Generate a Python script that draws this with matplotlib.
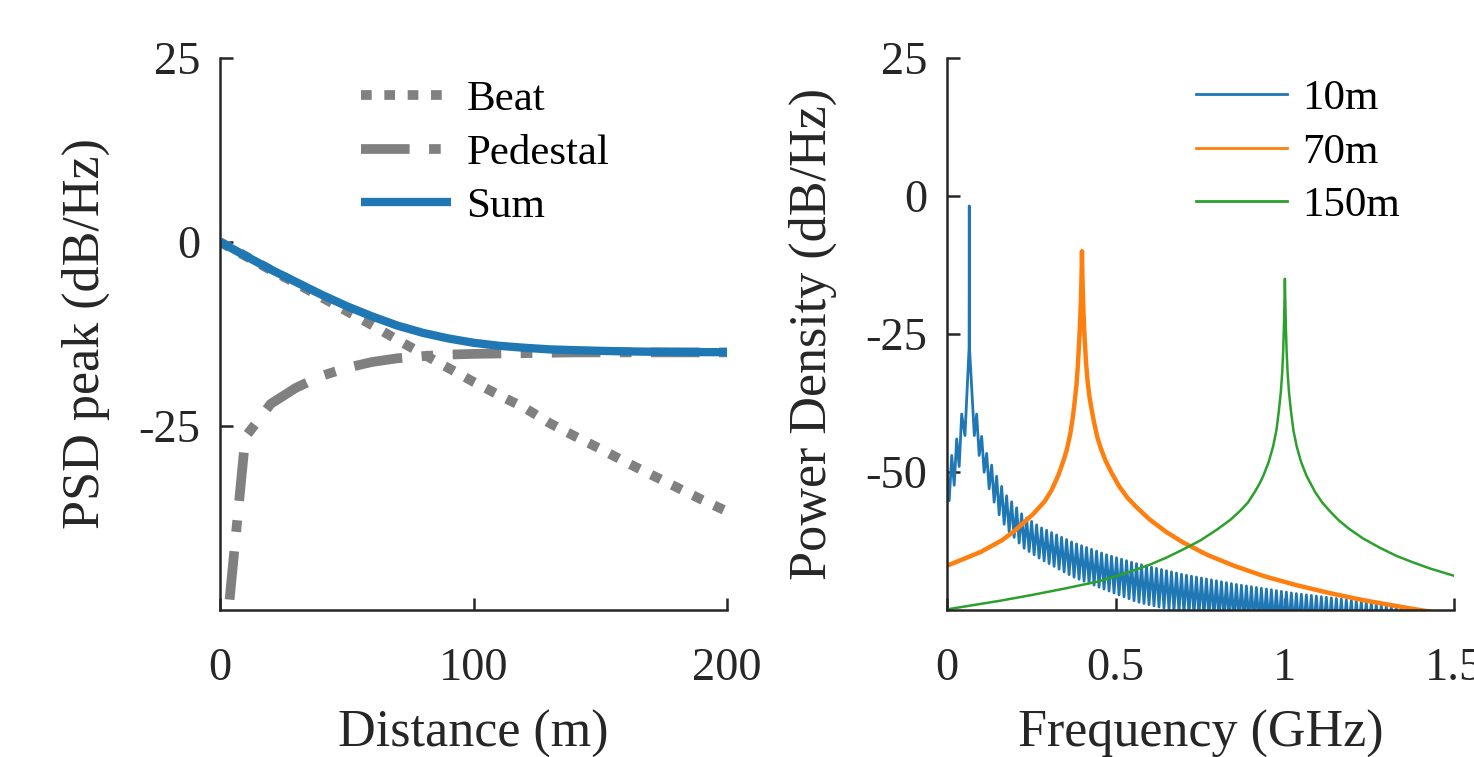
import numpy as np
import matplotlib
matplotlib.use("Agg")
import matplotlib.pyplot as plt
from matplotlib.lines import Line2D

plt.rcParams["font.family"] = ["Liberation Serif", "DejaVu Serif"]
plt.rcParams["axes.unicode_minus"] = False

# ---- left panel : PSD peak vs distance ----
distance = [0, 10, 20, 30, 40, 50, 60, 70, 80, 90, 100,
            110, 120, 130, 140, 150, 160, 170, 180, 190, 200]
beat = [0.0, -1.9, -3.8, -5.6, -7.5, -9.4, -11.3, -13.3, -15.2, -17.1, -19.0,
        -20.8, -22.5, -24.6, -26.4, -28.1, -29.9, -31.6, -33.3, -35.0, -36.6]
pedestal = [-62.0, -26.5, -22.0, -19.8, -18.2, -17.1, -16.3, -15.8, -15.5, -15.3, -15.2,
            -15.15, -15.1, -15.05, -15.0, -15.0, -15.0, -15.0, -15.0, -15.0, -15.0]
psd_sum = [0.0, -1.88, -3.73, -5.44, -7.15, -8.72, -10.11, -11.36, -12.34, -13.1, -13.69,
           -14.1, -14.37, -14.59, -14.7, -14.79, -14.86, -14.91, -14.94, -14.96, -14.97]

# ---- right panel : spectra ----
# 70 m
f_70 = [0.0, 0.1, 0.1625, 0.2, 0.256, 0.29, 0.31, 0.33, 0.345, 0.355, 0.365, 0.372, 0.378,
        0.384, 0.388, 0.392, 0.395, 0.397, 0.3985, 0.3995, 0.4,
        0.4005, 0.4015, 0.403, 0.405, 0.408, 0.412, 0.417, 0.422, 0.428, 0.435, 0.445, 0.455,
        0.47, 0.488, 0.51, 0.535, 0.56, 0.6, 0.65, 0.7, 0.77, 0.85, 0.94, 1.034, 1.13, 1.23,
        1.35, 1.5]
p_70 = [-67.0, -64.5, -62.4, -60.7, -57.6, -55.3, -53.3, -50.6, -48.0, -46.0, -43.2, -40.5, -37.5,
        -34.0, -30.5, -26.0, -22.0, -18.5, -15.0, -12.0, -10.0,
        -12.0, -15.0, -18.5, -22.0, -26.0, -30.2, -33.8, -36.3, -38.5, -40.8, -43.6, -45.6,
        -48.0, -50.2, -52.6, -54.7, -56.3, -58.6, -60.9, -62.8, -65.0, -67.0, -68.9, -70.5,
        -71.9, -73.2, -74.5, -76.0]
# 150 m
f_150 = [0.0, 0.16, 0.25, 0.35, 0.45, 0.5, 0.55, 0.6, 0.65, 0.7, 0.75, 0.8, 0.84, 0.87, 0.891,
         0.911, 0.926, 0.936, 0.952, 0.965, 0.975, 0.982, 0.988, 0.992, 0.995, 0.997, 0.9985,
         0.9995, 1.0,
         1.0005, 1.0015, 1.003, 1.005, 1.008, 1.012, 1.018, 1.025, 1.035, 1.048, 1.064, 1.089,
         1.11, 1.133, 1.16, 1.19, 1.23, 1.28, 1.33, 1.38, 1.43, 1.5]
p_150 = [-74.9, -73.3, -72.3, -71.1, -69.8, -68.9, -67.9, -66.8, -65.5, -64.0, -62.4, -60.4,
         -58.6, -56.9, -55.5, -53.6, -52.0, -50.7, -48.2, -45.4, -42.4, -39.0, -35.5, -32.0,
         -28.0, -24.0, -20.0, -17.0, -15.0,
         -17.0, -20.0, -24.0, -28.0, -32.0, -35.5, -39.0, -42.4, -45.4, -48.2, -50.7, -53.6,
         -55.5, -57.1, -58.8, -60.3, -62.0, -63.7, -65.2, -66.4, -67.5, -68.8]
# 10 m : ripples near dc and the main lobe
f_10_head = [0.0, 0.0074, 0.0148, 0.0222, 0.0295, 0.0369, 0.0443, 0.054, 0.0662, 0.0668,
             0.0674, 0.0817]
p_10_head = [-49.4, -55.2, -47.0, -52.4, -44.0, -49.0, -39.5, -43.4, -27.5, -1.8,
             -27.5, -43.4]
# 10 m : envelopes of the ripple tail (tops / troughs)
f_10_top = [0.0886, 0.105, 0.12, 0.153, 0.177, 0.226, 0.276, 0.374, 0.473, 0.561,
            0.70, 0.85, 1.03, 1.23, 1.35, 1.5]
p_10_top = [-39.5, -44.0, -47.0, -51.5, -54.3, -57.9, -60.0, -62.8, -65.0, -66.6,
            -68.6, -70.3, -72.0, -73.5, -74.8, -76.2]
f_10_low = [0.0984, 0.113, 0.128, 0.153, 0.177, 0.226, 0.276, 0.374, 0.473, 0.561,
            0.70, 0.85, 1.0, 1.5]
p_10_low = [-47.0, -50.6, -53.5, -57.5, -60.3, -63.7, -65.7, -69.0, -71.4, -73.5,
            -75.5, -77.0, -78.0, -80.0]
ripple_step = 0.01477

# build the ripple tail: alternate top / trough every half period
tail_f = np.arange(0.0886, 1.5 + ripple_step, ripple_step / 2)
tops = np.interp(tail_f, f_10_top, p_10_top)
lows = np.interp(tail_f, f_10_low, p_10_low)
tail_p = np.where(np.arange(len(tail_f)) % 2 == 0, tops, lows)
f_10 = np.concatenate([f_10_head, tail_f])
p_10 = np.concatenate([p_10_head, tail_p])

GRAY = "#808080"
DARK = "#262626"

fig = plt.figure(figsize=(14.74, 7.57), dpi=100)
ax1 = fig.add_axes([220 / 1474, 147 / 757, 507 / 1474, 552 / 757])
ax2 = fig.add_axes([946.7 / 1474, 147 / 757, 507.3 / 1474, 552 / 757])

ax1.plot(distance, beat, color=GRAY, lw=7, dashes=(1.1, 1.3), dash_capstyle="butt", label="Beat")
ax1.plot(distance, pedestal, color=GRAY, lw=7, dashes=(5.0, 2.0, 1.2, 2.0), dash_capstyle="butt",
         label="Pedestal")
ax1.plot(distance, psd_sum, color="#1f77b4", lw=6, solid_capstyle="butt", label="Sum")
ax1.set_xlim(0, 200)
ax1.set_ylim(-50, 25)
ax1.set_xticks([0, 100, 200])
ax1.set_yticks([-25, 0, 25])
ax1.set_xlabel("Distance (m)", fontsize=37.5, labelpad=14)
ax1.set_ylabel("PSD peak (dB/Hz)", fontsize=37.5, labelpad=20.5)
ax1.legend(loc="upper left", bbox_to_anchor=(0.244, 0.991), frameon=False, fontsize=31,
           handlelength=2.1, handletextpad=0.35, labelspacing=0.33, borderaxespad=0.0)

ax2.plot(f_10, p_10, color="#1f77b4", lw=2.0)
ax2.plot(f_70, p_70, color="#ff7f0e", lw=3.2)
ax2.plot(f_150, p_150, color="#2ca02c", lw=1.8)
ax2.set_xlim(0, 1.5)
ax2.set_ylim(-75, 25)
ax2.set_xticks([0, 0.5, 1, 1.5])
ax2.set_xticklabels(["0", "0.5", "1", "1.5"])
ax2.set_yticks([-50, -25, 0, 25])
ax2.set_xlabel("Frequency (GHz)", fontsize=37.5, labelpad=14)
ax2.set_ylabel("Power Density (dB/Hz)", fontsize=37.5, labelpad=20)
handles = [Line2D([], [], color="#1f77b4", lw=2),
           Line2D([], [], color="#ff7f0e", lw=2),
           Line2D([], [], color="#2ca02c", lw=2)]
ax2.legend(handles, ["10m", "70m", "150m"], loc="upper left", bbox_to_anchor=(0.458, 0.993),
           frameon=False, fontsize=31, handlelength=2.1, handletextpad=0.35,
           labelspacing=0.33, borderaxespad=0.0)

for ax in (ax1, ax2):
    for side in ("top", "right"):
        ax.spines[side].set_visible(False)
    for side in ("left", "bottom"):
        ax.spines[side].set_color(DARK)
        ax.spines[side].set_linewidth(1.8)
    ax.tick_params(direction="in", length=9, width=1.8, color=DARK, labelcolor=DARK,
                   labelsize=33.5)
    ax.tick_params(axis="x", pad=27)
    ax.tick_params(axis="y", pad=14)
    ax.xaxis.label.set_color(DARK)
    ax.yaxis.label.set_color(DARK)

fig.savefig("out.png", dpi=100)
